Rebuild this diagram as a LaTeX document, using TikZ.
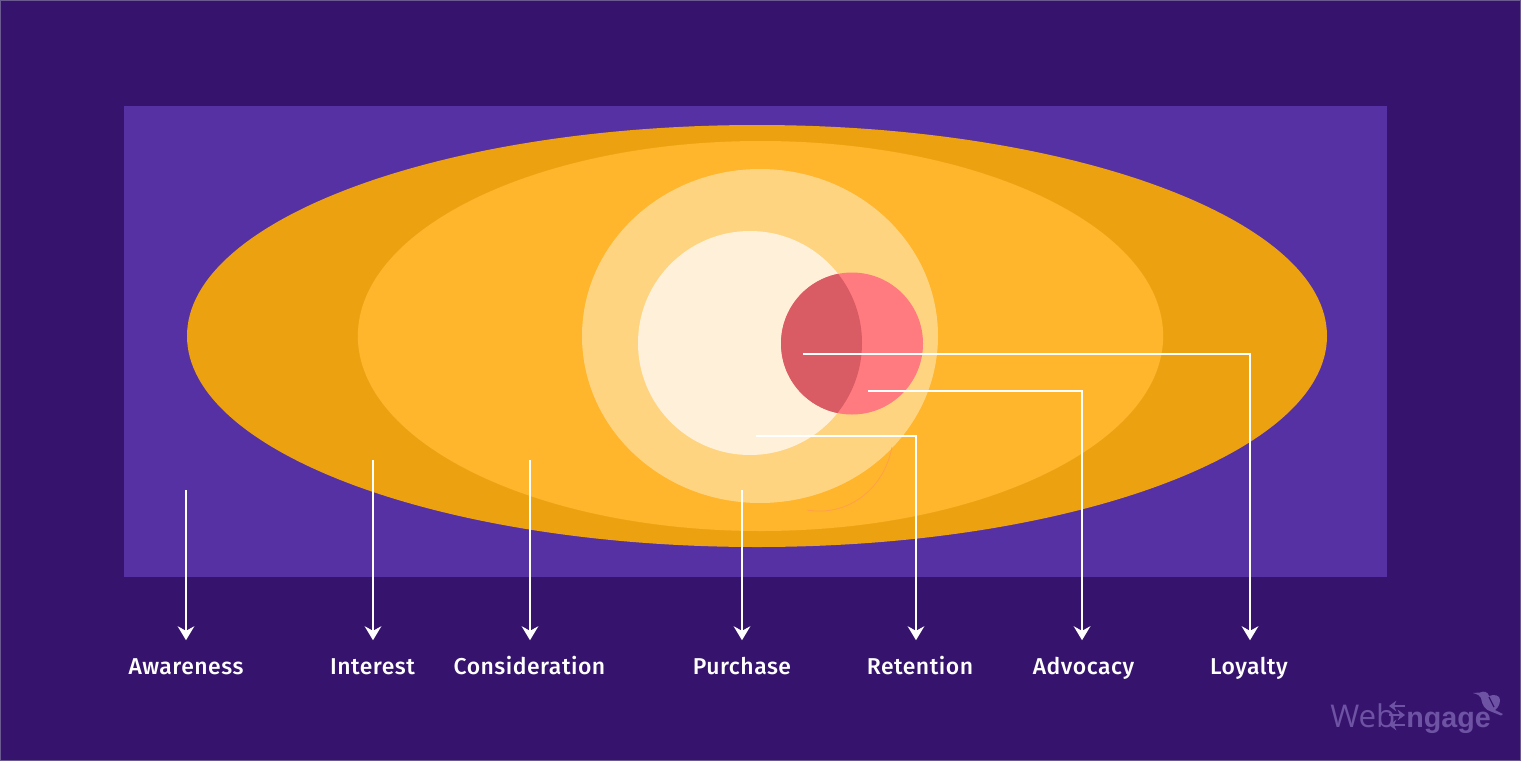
\documentclass[tikz,border=0pt]{standalone}
\usepackage{fontspec}
\setmainfont{Fira Sans Medium}
\newfontfamily\logolight{Open Sans}
\newfontfamily\logobold{Liberation Sans}
\usetikzlibrary{arrows.meta}
\definecolor{pagebg}{HTML}{36146E}
\definecolor{pageedge}{HTML}{6A5A90}
\definecolor{panelbg}{HTML}{5631A3}
\definecolor{outeramber}{HTML}{ECA210}
\definecolor{inneramber}{HTML}{FFB52C}
\definecolor{lightamber}{HTML}{FFD480}
\definecolor{cream}{HTML}{FFF1D9}
\definecolor{rosered}{HTML}{FF7B80}
\definecolor{darkrose}{HTML}{D95B63}
\definecolor{logopurple}{HTML}{6E52A3}
\tikzset{
    stagelabel/.style={anchor=base,inner sep=0pt,text=white,text height=25.5pt,text depth=0pt,font=\fontsize{17.2}{20}\selectfont\addfontfeatures{LetterSpace=2.2}},
    flowline/.style={draw=white,line width=1.6pt,-{Stealth[length=10.5pt,width=12.5pt,inset=3.5pt]}},
    logoarrow/.style={logopurple,line width=2pt,-{Stealth[length=5.5pt,width=8pt]}},
}
\begin{document}
\begin{tikzpicture}[x=.75pt,y=-.75pt]
    \fill[pagebg] (0,0) rectangle (1521,761);
    \useasboundingbox (0,0) rectangle (1521,761);
    \draw[pageedge,line width=.75pt] (.5,.5) rectangle (1520.5,760.5);
    \fill[panelbg] (124,106) rectangle (1387,577);
    % ellipses
    \fill[outeramber] (757,336) ellipse [x radius=427.5pt,y radius=158.25pt];
    \fill[inneramber] (760.5,336) ellipse [x radius=302pt,y radius=146.25pt];
    \fill[lightamber] (760,336) ellipse [x radius=133.5pt,y radius=125.25pt];
    \fill[cream] (750,343) circle (84pt);
    \fill[rosered] (852,343.5) circle (53.25pt);
    \begin{scope}
        \clip (750,343) circle (84pt);
        \fill[darkrose] (852,343.5) circle (53.25pt);
    \end{scope}
    \draw[draw=rosered!40!inneramber,line width=.5pt] (892,447) .. controls (884,489) and (848,517) .. (807,510);
    % labels
    \node[stagelabel] (awareness) at (186,674.5) {Awareness};
    \node[stagelabel] (interest) at (372.5,674.5) {Interest};
    \node[stagelabel] (consideration) at (529.5,674.5) {Consideration};
    \node[stagelabel] (purchase) at (742,674.5) {Purchase};
    \node[stagelabel] (retention) at (920,674.5) {Retention};
    \node[stagelabel] (advocacy) at (1083.5,674.5) {Advocacy};
    \node[stagelabel] (loyalty) at (1249,674.5) {Loyalty};
    % starts
    \coordinate (awarenessstart) at (186,490);
    \coordinate (intereststart) at (373,460);
    \coordinate (considerationstart) at (530,460);
    \coordinate (purchasestart) at (742,490);
    \coordinate (retentionstart) at (756,436);
    \coordinate (advocacystart) at (868,391);
    \coordinate (loyaltystart) at (803,354);
    \foreach \stage in {awareness,interest,consideration,purchase}
        \draw[flowline] (\stage start) -- (\stage start |- \stage.north);
    \draw[flowline] (retentionstart) -| ([xshift=-3pt]retention.north);
    \draw[flowline] (advocacystart) -| ([xshift=-1.1pt]advocacy.north);
    \draw[flowline] (loyaltystart) -| ([xshift=.75pt]loyalty.north);
    % logo
    \node[anchor=base west,inner sep=0pt,text=logopurple,font=\logolight\fontsize{23.5}{30}\selectfont] (logoweb) at (1330,727) {Web};
    \node[anchor=base west,inner sep=0pt,text=logopurple,font=\logobold\bfseries\fontsize{21.5}{30}\selectfont] (logongage) at (1406,727) {ngage};
    \foreach \y/\tipx/\tailx in {706/1389/1405,715/1405/1389,725/1389/1405}
        \draw[logoarrow] (\tailx,\y) -- (\tipx,\y);
    \fill[logopurple] (1473,693) -- (1480,692.5) .. controls (1484,690.5) and (1488,692) .. (1489,696) .. controls (1494,694) and (1500,695) .. (1500,700) .. controls (1500,704) and (1498,708) .. (1495,710) -- (1503,714) -- (1501,715.5) -- (1491,711.5) .. controls (1485,710) and (1482,705) .. (1481,698) .. controls (1480,695.5) and (1478,694.5) .. cycle;
    \draw[pagebg,line width=.9pt] (1489,697) -- (1494,707);
\end{tikzpicture}
\end{document}
